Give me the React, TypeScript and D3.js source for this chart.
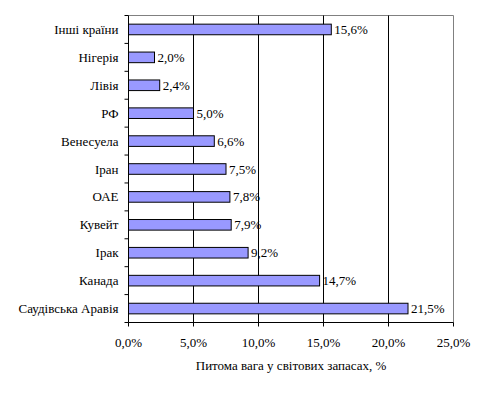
import React from "react";
import * as d3 from "d3";

const countries = [
  "Інші країни",
  "Нігерія",
  "Лівія",
  "РФ",
  "Венесуела",
  "Іран",
  "ОАЕ",
  "Кувейт",
  "Ірак",
  "Канада",
  "Саудівська Аравія",
];
const shares = [15.6, 2.0, 2.4, 5.0, 6.6, 7.5, 7.8, 7.9, 9.2, 14.7, 21.5];
const xTicks = [0, 5, 10, 15, 20, 25];

const fmt = (v: number) => v.toFixed(1).replace(".", ",") + "%";

const txt: React.CSSProperties = {
  fontFamily: '"Liberation Serif", "Times New Roman", serif',
  fontSize: "13px",
  fill: "#000",
};

const App = () => {
  const width = 487;
  const height = 393;
  const margin = { top: 15, right: 34, bottom: 71, left: 128 };
  const innerW = width - margin.left - margin.right;
  const innerH = height - margin.top - margin.bottom;

  const x = d3.scaleLinear().domain([0, 25]).range([0, innerW]);
  const y = d3.scaleBand().domain(countries).range([0, innerH]).paddingInner(0.62).paddingOuter(0.31);
  const step = y.step();

  return (
    <svg width={width} height={height} style={{ position: "absolute", left: 0, top: 0 }}>
      <g transform={`translate(${margin.left + 0.5},${margin.top + 0.5})`}>
        {/* plot border */}
        <line x1={0} x2={innerW} y1={0} y2={0} stroke="#808080" />
        <line x1={innerW} x2={innerW} y1={0} y2={innerH} stroke="#808080" />
        {/* gridlines */}
        {xTicks.slice(1, -1).map((t) => (
          <line key={t} x1={x(t)} x2={x(t)} y1={0} y2={innerH} stroke="#000" />
        ))}
        {/* bars */}
        {countries.map((c, i) => (
          <g key={c}>
            <rect
              x={0}
              y={y(c)}
              width={x(shares[i])}
              height={y.bandwidth()}
              fill="#9999FF"
              stroke="#000"
            />
            <text
              x={x(shares[i]) + 3}
              y={(y(c) as number) + y.bandwidth() / 2}
              dy="0.35em"
              style={txt}
            >
              {fmt(shares[i])}
            </text>
            <text
              x={-10}
              y={(y(c) as number) + y.bandwidth() / 2}
              dy="0.35em"
              textAnchor="end"
              style={txt}
            >
              {c}
            </text>
          </g>
        ))}
        {/* left axis */}
        <line x1={0} x2={0} y1={0} y2={innerH} stroke="#000" />
        {d3.range(countries.length + 1).map((i) => (
          <line key={i} x1={-4} x2={0} y1={i * step} y2={i * step} stroke="#000" />
        ))}
        {/* bottom axis */}
        <line x1={0} x2={innerW} y1={innerH} y2={innerH} stroke="#000" />
        {xTicks.map((t) => (
          <g key={t}>
            <line x1={x(t)} x2={x(t)} y1={innerH} y2={innerH + 4} stroke="#000" />
            <text x={x(t)} y={innerH + 24} textAnchor="middle" style={txt}>
              {fmt(t)}
            </text>
          </g>
        ))}
        <text x={innerW / 2} y={innerH + 47} textAnchor="middle" style={txt}>
          Питома вага у світових запасах, %
        </text>
      </g>
    </svg>
  );
};

export default App;
